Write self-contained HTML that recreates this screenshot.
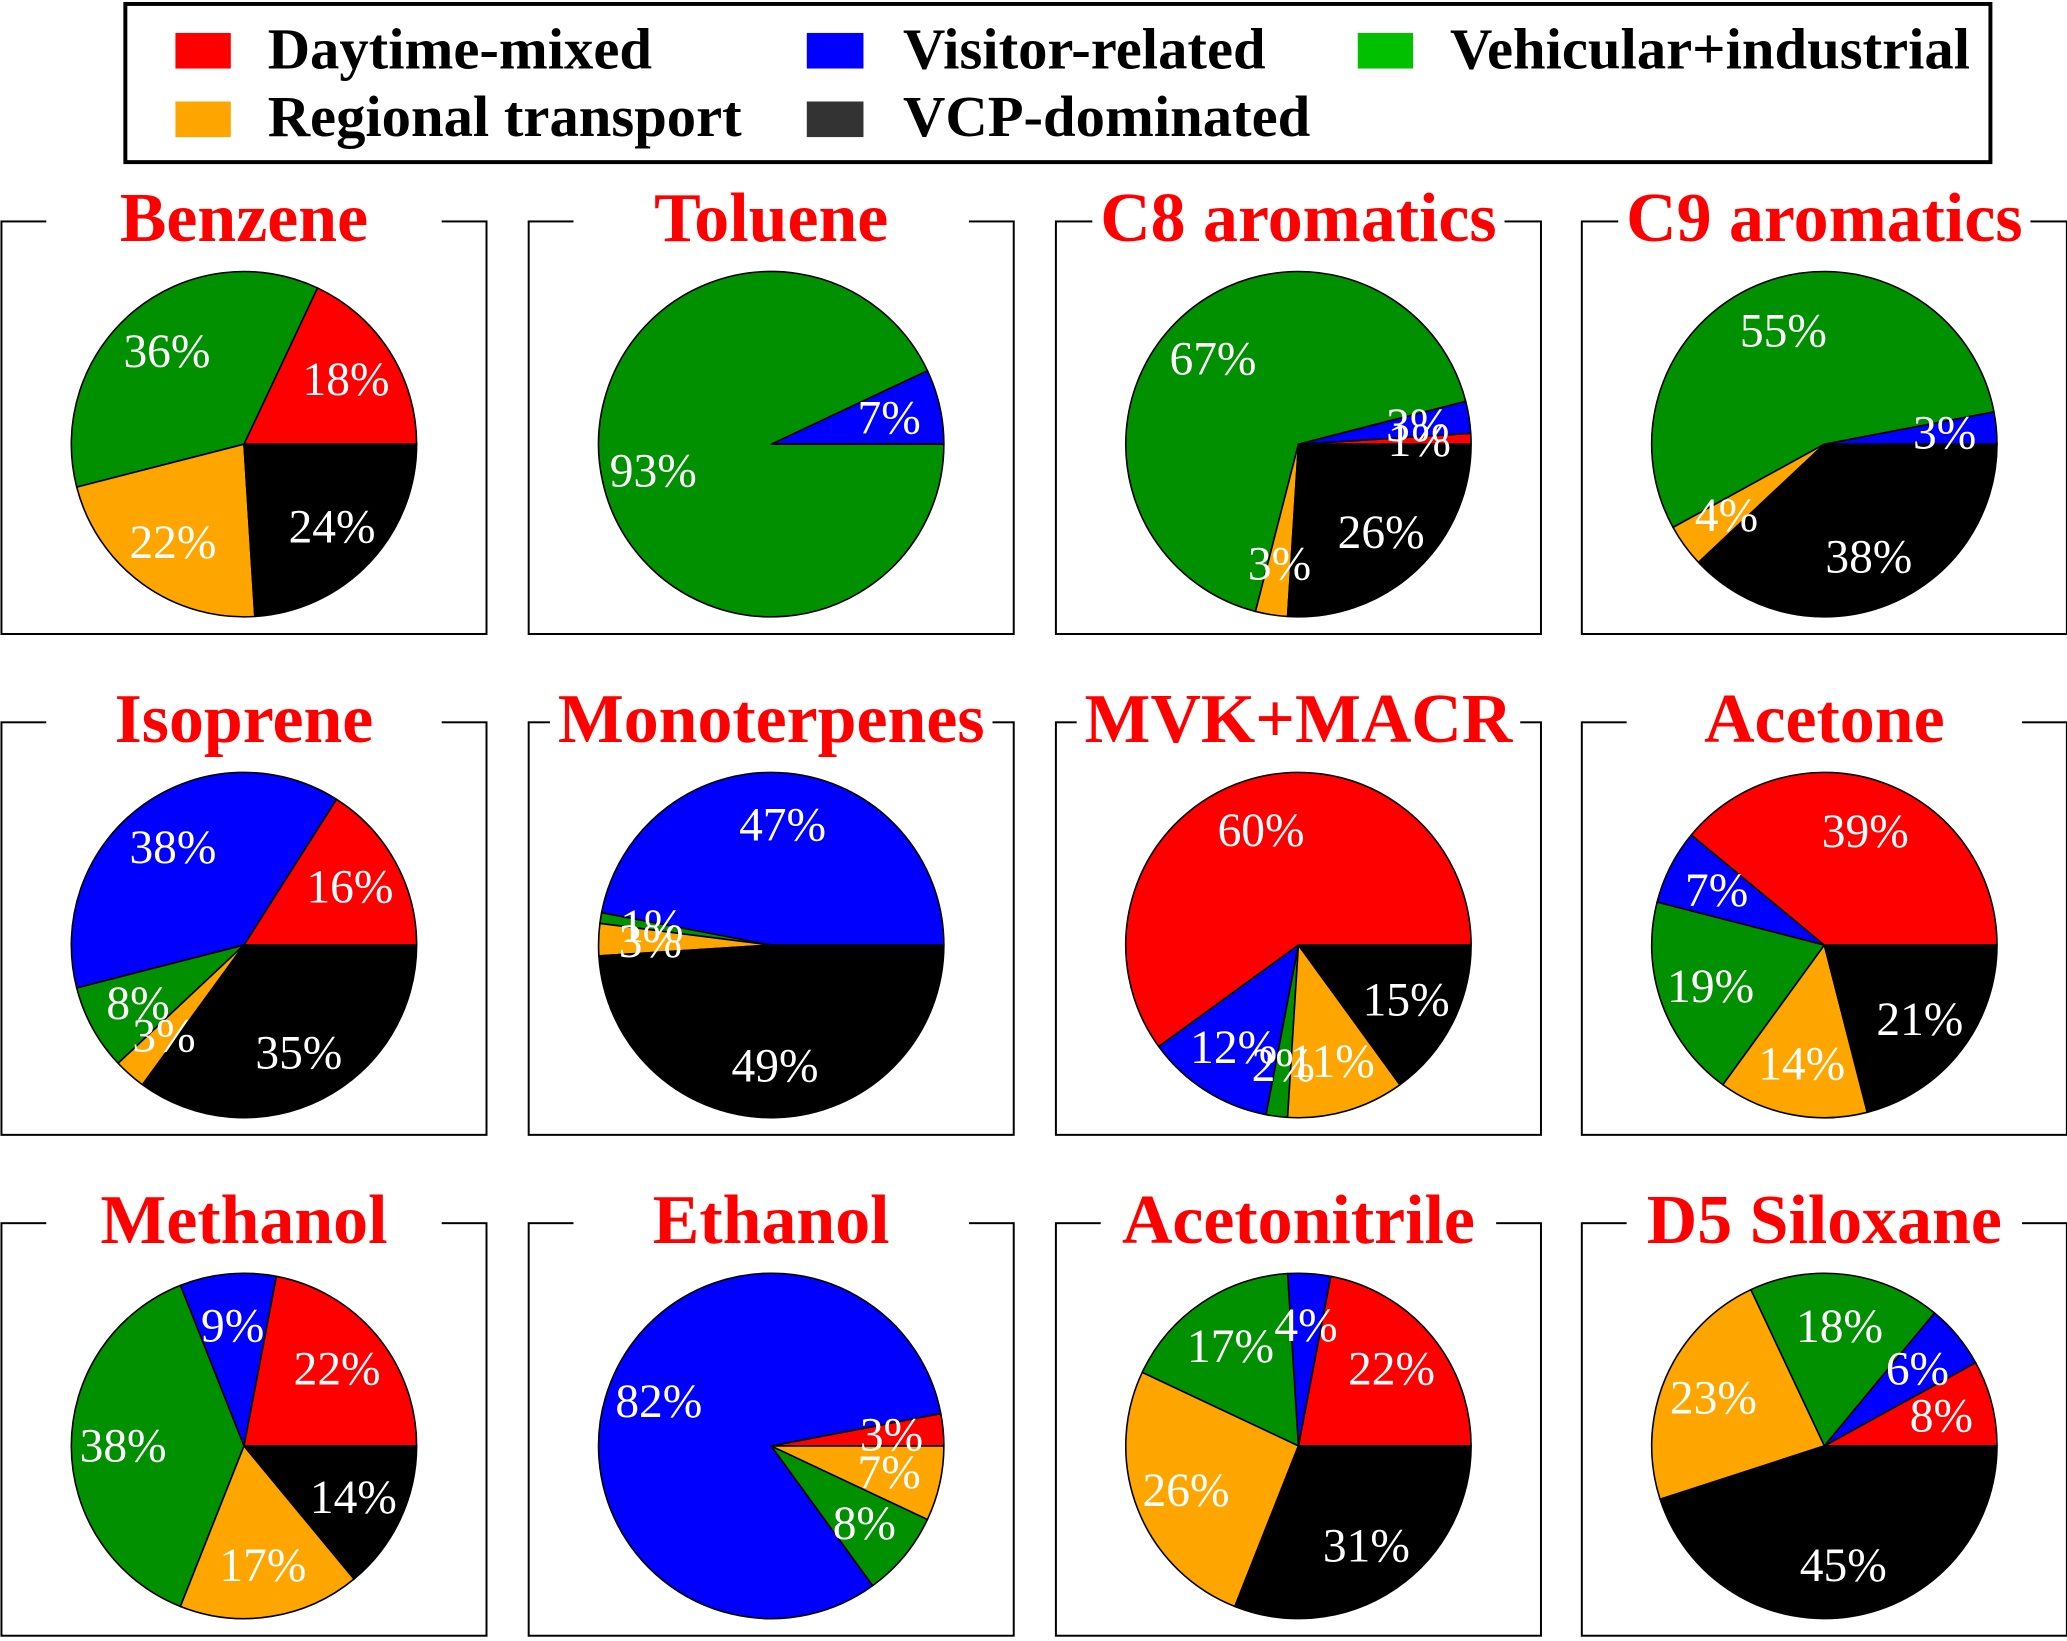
<!DOCTYPE html>
<html><head><meta charset="utf-8"><style>
html,body{margin:0;padding:0;background:#fff;}
svg{display:block;}
</style></head><body>
<svg id="chart" width="2067" height="1641" viewBox="0 0 1568 1245" xmlns="http://www.w3.org/2000/svg">
<rect x="0" y="0" width="1568" height="1245" fill="#fff"/>
<g id="legend" font-family="Liberation Serif, serif" font-weight="bold" font-size="44.5">
<rect x="95" y="3" width="1415" height="120" fill="#fff" stroke="#000" stroke-width="3"/>
<g><rect x="133" y="25" width="42" height="27" fill="#ff0000"/><text x="203" y="52">Daytime-mixed</text></g>
<g><rect x="612" y="25" width="43" height="27" fill="#0000ff"/><text x="685" y="52">Visitor-related</text></g>
<g><rect x="1030" y="25" width="42" height="27" fill="#00c000"/><text x="1100" y="52">Vehicular+industrial</text></g>
<g><rect x="133" y="77" width="42" height="27" fill="#ffa500"/><text x="203" y="103">Regional transport</text></g>
<g><rect x="612" y="77" width="43" height="27" fill="#333"/><text x="685" y="103">VCP-dominated</text></g>
</g>
<g id="panels"></g>
</svg>
<script>
const titles = ["Benzene","Toluene","C8 aromatics","C9 aromatics","Isoprene","Monoterpenes","MVK+MACR","Acetone","Methanol","Ethanol","Acetonitrile","D5 Siloxane"];
const daytime   = [18,0,1,0,16,0,60,39,22,3,22,8];
const visitor   = [0,7,3,3,38,47,12,7,9,82,4,6];
const vehicular = [36,93,67,55,8,1,2,19,38,8,17,18];
const regional  = [22,0,3,4,3,3,11,14,17,7,26,23];
const vcp       = [24,0,26,38,35,49,15,21,14,0,31,45];
const colors = ["#ff0000","#0000ff","#009000","#ffa500","#000000"];
const NS="http://www.w3.org/2000/svg";
const panels=document.getElementById('panels');
const colX=[0,400,800,1199], rowY=[168,548,928];
const W=368, H=313, R=131;
function mk(tag,attrs,parent){const e=document.createElementNS(NS,tag);for(const k in attrs)e.setAttribute(k,attrs[k]);parent.appendChild(e);return e;}
titles.forEach((t,i)=>{
  const c=i%4,r=Math.floor(i/4);
  const x0=colX[c],y0=rowY[r];
  const g=mk('g',{},panels);
  
  
  const frame=mk('rect',{x:x0+1,y:y0,width:W,height:H,fill:'none',stroke:'#000','stroke-width':1.5},g);
  
  
  const cx=x0+185, cy=y0+169;
  const vals=[daytime[i],visitor[i],vehicular[i],regional[i],vcp[i]];
  const tot=vals.reduce((a,b)=>a+b,0);
  let a0=0;
  vals.forEach((v,k)=>{
    if(v<=0)return;
    const a1=a0+v/tot*2*Math.PI;
    const x1=cx+R*Math.cos(a0),y1=cy-R*Math.sin(a0);
    const x2=cx+R*Math.cos(a1),y2=cy-R*Math.sin(a1);
    const large=(a1-a0)>Math.PI?1:0;
    const p=mk('path',{d:`M${cx},${cy} L${x1},${y1} A${R},${R} 0 ${large} 0 ${x2},${y2} Z`,fill:colors[k],stroke:'#000','stroke-width':1.2,'stroke-linejoin':'round'},g);
    
    
    a0=a1;
  });
  a0=0;
  vals.forEach((v,k)=>{
    if(v<=0)return;
    const a1=a0+v/tot*2*Math.PI;
    const am=(a0+a1)/2;
    const lt=mk('text',{x:cx+0.7*R*Math.cos(am),y:cy-0.7*R*Math.sin(am)+12,'text-anchor':'middle',fill:'#fff','font-family':'Liberation Serif, serif','font-size':36},g);
    lt.textContent=v+'%';
    
    
    a0=a1;
  });
  const tt=mk('text',{x:x0+185,y:y0+15,'text-anchor':'middle',fill:'#ff0000','font-family':'Liberation Serif, serif','font-weight':'bold','font-size':53},g);
  tt.textContent=t;
  
  
  const bw=Math.max(300,tt.getComputedTextLength()+12);
  const bg=mk('rect',{x:x0+185-bw/2,y:y0-4,width:bw,height:8,fill:'#fff'},g);
  g.insertBefore(bg,tt);
});
</script>
</body></html>
